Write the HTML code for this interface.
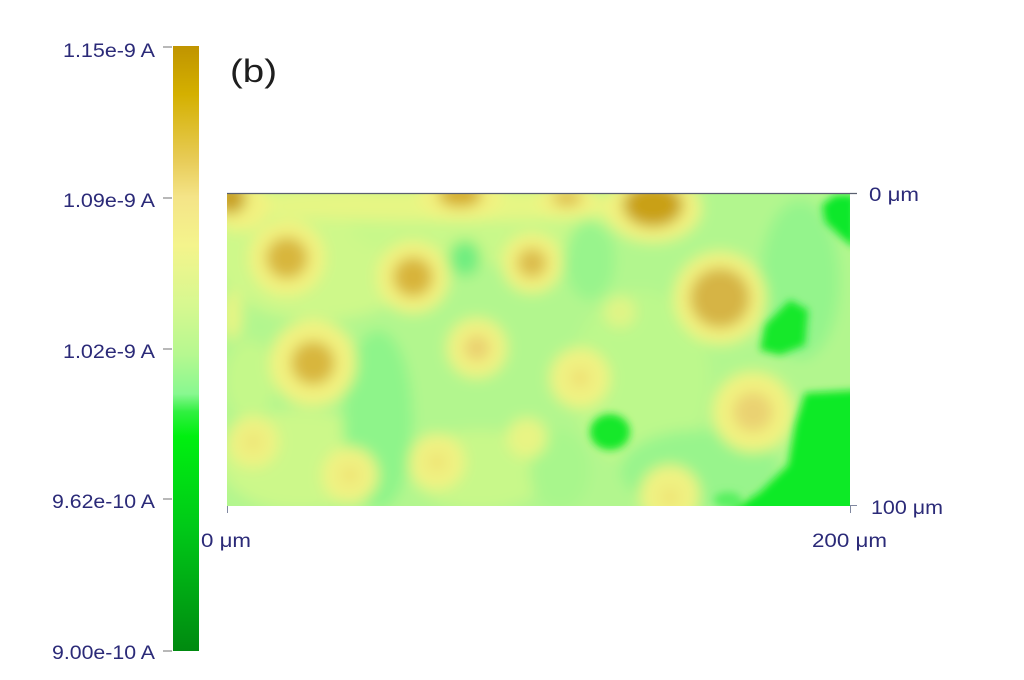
<!DOCTYPE html>
<html>
<head>
<meta charset="utf-8">
<style>
  html,body{margin:0;padding:0;background:#fff;}
  svg{display:block;}
  text{font-family:"Liberation Sans",Arial,sans-serif;}
</style>
</head>
<body>
<svg width="1024" height="680" viewBox="0 0 1024 680" xmlns="http://www.w3.org/2000/svg">
  <defs>
    <linearGradient id="cb" x1="0" y1="0" x2="0" y2="1">
      <stop offset="0" stop-color="#c09400"/>
      <stop offset="0.08" stop-color="#d4b000"/>
      <stop offset="0.19" stop-color="#e8cc58"/>
      <stop offset="0.25" stop-color="#f4e488"/>
      <stop offset="0.33" stop-color="#f4f48c"/>
      <stop offset="0.43" stop-color="#d6f890"/>
      <stop offset="0.51" stop-color="#b6f890"/>
      <stop offset="0.575" stop-color="#88f890"/>
      <stop offset="0.605" stop-color="#30f040"/>
      <stop offset="0.645" stop-color="#00f010"/>
      <stop offset="0.8" stop-color="#00c818"/>
      <stop offset="1" stop-color="#008a10"/>
    </linearGradient>
    <clipPath id="mapclip">
      <rect x="227" y="194" width="623" height="312"/>
    </clipPath>
    <filter id="blur" x="-10%" y="-10%" width="120%" height="120%">
      <feGaussianBlur stdDeviation="7"/>
    </filter>
    <filter id="blur2" x="-20%" y="-20%" width="140%" height="140%">
      <feGaussianBlur stdDeviation="4"/>
    </filter>
  </defs>

  <!-- colorbar -->
  <rect x="173" y="46" width="26" height="605" fill="url(#cb)"/>
  <g stroke="#888" stroke-width="1.2">
    <line x1="163" y1="47" x2="172" y2="47"/>
    <line x1="163" y1="198" x2="172" y2="198"/>
    <line x1="163" y1="349" x2="172" y2="349"/>
    <line x1="163" y1="499" x2="172" y2="499"/>
    <line x1="163" y1="651" x2="172" y2="651"/>
  </g>
  <g fill="#2b2a78" font-size="19" text-anchor="end">
    <text x="155" y="57" textLength="92" lengthAdjust="spacingAndGlyphs">1.15e-9 A</text>
    <text x="155" y="207" textLength="92" lengthAdjust="spacingAndGlyphs">1.09e-9 A</text>
    <text x="155" y="358" textLength="92" lengthAdjust="spacingAndGlyphs">1.02e-9 A</text>
    <text x="155" y="508" textLength="103" lengthAdjust="spacingAndGlyphs">9.62e-10 A</text>
    <text x="155" y="659" textLength="103" lengthAdjust="spacingAndGlyphs">9.00e-10 A</text>
  </g>

  <!-- (b) label -->
  <text x="230" y="82" font-size="32" fill="#1e1e1e" textLength="47" lengthAdjust="spacingAndGlyphs">(b)</text>

  <!-- map -->
  <g clip-path="url(#mapclip)">
    <g filter="url(#blur)">
      <rect x="200" y="170" width="680" height="360" fill="#b2f68e"/>
      <!-- yellowish-green zones -->
      <ellipse cx="320" cy="250" rx="110" ry="70" fill="#cef88a"/>
      <ellipse cx="480" cy="225" rx="130" ry="40" fill="#c8f88a"/>
      <ellipse cx="300" cy="460" rx="80" ry="50" fill="#ccf88a"/>
      <ellipse cx="480" cy="470" rx="70" ry="40" fill="#c8f88a"/>
      <ellipse cx="640" cy="380" rx="70" ry="90" fill="#bcf88c"/>
      <ellipse cx="440" cy="205" rx="220" ry="16" fill="#e6f684"/>
      <!-- greener channels -->
      <ellipse cx="378" cy="420" rx="35" ry="90" fill="#8ef48a"/>
      <ellipse cx="465" cy="258" rx="16" ry="18" fill="#70ee80"/>
      <ellipse cx="590" cy="260" rx="25" ry="40" fill="#98f48c"/>
      <ellipse cx="800" cy="280" rx="40" ry="80" fill="#94f48c"/>
      <ellipse cx="700" cy="470" rx="80" ry="40" fill="#98f48c"/>
      <ellipse cx="250" cy="380" rx="25" ry="40" fill="#c4f88a"/>
      <ellipse cx="560" cy="470" rx="30" ry="40" fill="#a8f68c"/>

      <!-- yellow halos -->
      <circle cx="287" cy="258" r="38" fill="#f2f280"/>
      <circle cx="413" cy="277" r="36" fill="#f2f280"/>
      <circle cx="532" cy="263" r="30" fill="#f2f280"/>
      <circle cx="313" cy="363" r="43" fill="#f2f280"/>
      <circle cx="477" cy="348" r="30" fill="#f0f282"/>
      <circle cx="720" cy="298" r="46" fill="#f2f280"/>
      <circle cx="753" cy="412" r="40" fill="#f2f280"/>
      <circle cx="580" cy="378" r="30" fill="#f0f282"/>
      <ellipse cx="460" cy="196" rx="42" ry="24" fill="#f2f280"/>
      <ellipse cx="653" cy="208" rx="48" ry="34" fill="#f2f280"/>
      <ellipse cx="567" cy="200" rx="30" ry="18" fill="#f2f280"/>
      <ellipse cx="240" cy="205" rx="30" ry="26" fill="#f2f280"/>
      <circle cx="253" cy="442" r="26" fill="#eef282"/>
      <circle cx="350" cy="475" r="28" fill="#f0f282"/>
      <circle cx="437" cy="462" r="28" fill="#f0f282"/>
      <circle cx="527" cy="438" r="20" fill="#e8f484"/>
      <circle cx="670" cy="495" r="30" fill="#f0f282"/>
      <circle cx="620" cy="312" r="16" fill="#e0f486"/>
      <ellipse cx="232" cy="315" rx="10" ry="25" fill="#e8f484"/>

      <!-- gold cores -->
      <circle cx="287" cy="258" r="21" fill="#d8b63c"/>
      <circle cx="413" cy="277" r="20" fill="#d8b43a"/>
      <circle cx="532" cy="263" r="15" fill="#dcbc4c"/>
      <circle cx="313" cy="363" r="22" fill="#d8b63e"/>
      <circle cx="477" cy="348" r="13" fill="#ead070"/>
      <circle cx="720" cy="298" r="30" fill="#d6b444"/>
      <circle cx="753" cy="412" r="20" fill="#ead272"/>
      <circle cx="580" cy="378" r="10" fill="#efe074"/>
      <ellipse cx="460" cy="195" rx="22" ry="12" fill="#d4ac2c"/>
      <ellipse cx="653" cy="205" rx="30" ry="22" fill="#c9a012"/>
      <ellipse cx="567" cy="198" rx="15" ry="8" fill="#dcbc4c"/>
      <ellipse cx="230" cy="198" rx="16" ry="16" fill="#c8a020"/>
      <circle cx="253" cy="442" r="9" fill="#eee476"/>
      <circle cx="350" cy="475" r="10" fill="#eee476"/>
      <circle cx="437" cy="462" r="10" fill="#eee476"/>
      <circle cx="670" cy="497" r="10" fill="#eee476"/>
    </g>
    <g filter="url(#blur2)">
      <!-- bright green spots -->
      <ellipse cx="610" cy="432" rx="20" ry="18" fill="#12e82a"/>
      <polygon points="790,300 808,310 805,345 780,355 760,350 765,325" fill="#12e82a"/>
      <polygon points="835,195 855,195 855,248 842,238 825,222 822,205" fill="#10e82a"/>
      <polygon points="805,393 860,390 860,515 725,515 760,492 788,465 795,425" fill="#10ea28"/>
      <ellipse cx="728" cy="500" rx="14" ry="8" fill="#58f060"/>
    </g>
  </g>

  <!-- axis lines -->
  <line x1="227" y1="193.5" x2="857" y2="193.5" stroke="#5a6070" stroke-width="1.2"/>
  <g stroke="#8088a0" stroke-width="1">
    <line x1="850" y1="505.5" x2="857" y2="505.5"/>
    <line x1="227.5" y1="506" x2="227.5" y2="513"/>
    <line x1="850.5" y1="506" x2="850.5" y2="513"/>
  </g>
  <g fill="#2b2a78" font-size="19">
    <text x="869" y="201" textLength="50" lengthAdjust="spacingAndGlyphs">0 μm</text>
    <text x="871" y="514" textLength="72" lengthAdjust="spacingAndGlyphs">100 μm</text>
    <text x="201" y="547" textLength="50" lengthAdjust="spacingAndGlyphs">0 μm</text>
    <text x="812" y="547" textLength="75" lengthAdjust="spacingAndGlyphs">200 μm</text>
  </g>
</svg>
</body>
</html>
